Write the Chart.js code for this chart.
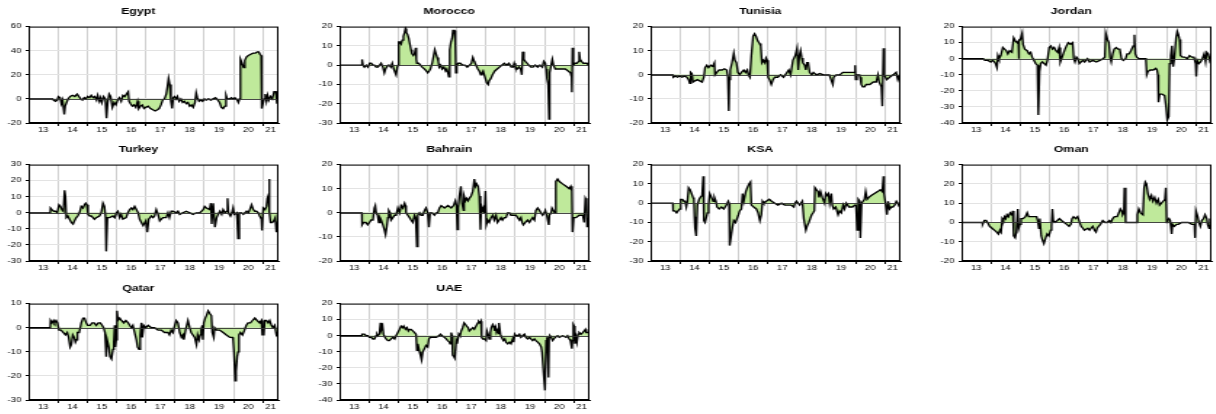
<!DOCTYPE html>
<html>
<head>
<meta charset="utf-8">
<script src="https://cdn.jsdelivr.net/npm/chart.js@4.4.1/dist/chart.umd.min.js"></script>
<style>
  html, body { margin: 0; padding: 0; background: #fff; }
  body { width: 1216px; height: 414px; position: relative; overflow: hidden; }
  canvas { position: absolute; }
</style>
</head>
<body>
<script>
// Panel titles and y-axis ranges
const countries = ['Egypt', 'Morocco', 'Tunisia', 'Jordan', 'Turkey', 'Bahrain', 'KSA', 'Oman', 'Qatar', 'UAE'];
const yMin  = [-20, -30, -20, -40, -30, -20, -30, -20, -30, -40];
const yMax  = [ 60,  20,  20,  20,  30,  20,  20,  30,  10,  20];
const yStep = [ 20,  10,  10,  10,  10,  10,  10,  10,  10,  10];
const yearLabels = ['13', '14', '15', '16', '17', '18', '19', '20', '21'];

// Series as [decimal year, value]
const egypt = [
  [2013.00,0],[2013.82,0],[2013.85,-1],[2013.92,-2],[2013.98,-1],[2014.02,2],[2014.08,1],[2014.12,-4],[2014.16,-1],[2014.22,-13],
  [2014.25,-6],[2014.30,-3],[2014.35,0],[2014.42,2],[2014.50,3],[2014.58,2],[2014.66,4],[2014.72,2],[2014.78,0],[2014.84,-1],
  [2014.90,1],[2014.96,0],[2015.02,2],[2015.08,1],[2015.14,3],[2015.20,1],[2015.26,2],[2015.32,-1],[2015.36,3],[2015.42,-2],
  [2015.46,1],[2015.50,-3],[2015.56,2],[2015.62,0],[2015.66,-16],[2015.70,-3],[2015.75,4],[2015.80,2],[2015.86,-7],[2015.92,-3],
  [2015.98,-5],[2016.04,-1],[2016.10,1],[2016.16,-2],[2016.22,3],[2016.28,2],[2016.34,4],[2016.40,6],[2016.43,-2],[2016.48,-4],
  [2016.54,-6],[2016.60,-5],[2016.66,-7],[2016.72,-2],[2016.76,-8],[2016.82,-6],[2016.88,-5],[2016.94,-8],[2017.00,-7],[2017.08,-6],
  [2017.16,-8],[2017.24,-9],[2017.32,-10],[2017.40,-9],[2017.46,-8],[2017.52,-5],[2017.58,-1],[2017.64,0],[2017.70,4],[2017.74,10],
  [2017.78,17],[2017.82,12],[2017.86,-2],[2017.90,-8],[2017.94,1],[2017.98,2],[2018.04,0],[2018.08,2],[2018.14,-2],[2018.20,0],
  [2018.26,-3],[2018.32,-2],[2018.38,-4],[2018.44,-3],[2018.50,-6],[2018.56,-5],[2018.62,-7],[2018.68,-3],[2018.72,5],[2018.76,1],
  [2018.82,-2],[2018.88,-1],[2018.94,-2],[2019.00,0],[2019.06,-1],[2019.14,0],[2019.22,-1],[2019.30,0],[2019.38,1],[2019.46,-1],
  [2019.52,-3],[2019.58,-7],[2019.64,-8],[2019.70,-6],[2019.74,3],[2019.78,0],[2019.86,0],[2019.92,1],[2019.98,0],[2020.04,1],
  [2020.08,0],[2020.12,-1],[2020.16,-3],[2020.20,0],[2020.22,0],[2020.24,33],[2020.28,30],[2020.34,26],[2020.38,32],[2020.44,35],
  [2020.50,36],[2020.58,37],[2020.66,38],[2020.74,38],[2020.80,39],[2020.86,39],[2020.90,37],[2020.94,36],[2020.96,-8],[2021.00,-4],
  [2021.04,0],[2021.08,4],[2021.12,-2],[2021.16,3],[2021.20,-1],[2021.26,2],[2021.32,0],[2021.38,6],[2021.44,6],[2021.48,-4],[2021.52,2]
];

const morocco = [
  [2013.00,5],[2013.01,0],[2013.76,0],[2013.77,3],[2013.80,0],[2013.85,-1],[2013.92,0],[2013.97,-1],[2014.03,1],[2014.08,1],
  [2014.14,0],[2014.19,0],[2014.25,-1],[2014.31,-1],[2014.37,0],[2014.42,1],[2014.48,-1],[2014.53,-4],[2014.57,-2],[2014.61,-1],
  [2014.66,0],[2014.70,0],[2014.75,-1],[2014.80,1],[2014.85,-2],[2014.88,-2],[2014.93,-5],[2014.97,-1],[2015.00,0],[2015.02,12],
  [2015.06,12],[2015.10,11],[2015.14,13],[2015.18,15],[2015.22,17],[2015.25,19],[2015.28,17],[2015.32,16],[2015.36,14],[2015.40,11],
  [2015.44,8],[2015.47,6],[2015.52,5],[2015.56,6],[2015.60,9],[2015.62,3],[2015.64,1],[2015.70,1],[2015.76,0],[2015.82,-1],
  [2015.90,-2],[2015.96,-3],[2016.01,-4],[2016.06,-3],[2016.10,-2],[2016.16,1],[2016.20,4],[2016.25,8],[2016.29,6],[2016.33,4],
  [2016.37,2],[2016.40,-1],[2016.45,0],[2016.50,-2],[2016.56,-1],[2016.62,-3],[2016.66,-2],[2016.70,-4],[2016.73,-6],[2016.76,8],
  [2016.80,12],[2016.84,14],[2016.87,18],[2016.92,18],[2016.95,12],[2016.97,-4],[2017.00,0],[2017.05,1],[2017.12,1],[2017.20,0],
  [2017.28,0],[2017.36,-1],[2017.44,0],[2017.50,1],[2017.55,4],[2017.60,2],[2017.66,0],[2017.72,-2],[2017.77,-3],[2017.82,-5],
  [2017.86,-4],[2017.90,-3],[2017.96,-6],[2018.02,-9],[2018.07,-10],[2018.11,-8],[2018.16,-7],[2018.22,-5],[2018.30,-3],[2018.38,-2],
  [2018.46,-1],[2018.54,0],[2018.62,1],[2018.70,0],[2018.78,1],[2018.86,-1],[2018.92,-1],[2018.96,1],[2019.00,-1],[2019.06,-2],
  [2019.12,-1],[2019.18,-2],[2019.22,-5],[2019.25,7],[2019.29,3],[2019.34,2],[2019.40,1],[2019.46,0],[2019.53,-1],[2019.60,-1],
  [2019.68,0],[2019.76,-1],[2019.84,0],[2019.92,-1],[2019.97,2],[2020.02,1],[2020.05,-2],[2020.08,-7],[2020.12,-10],[2020.15,-28],
  [2020.17,-4],[2020.22,0],[2020.26,3],[2020.30,0],[2020.36,-2],[2020.44,-2],[2020.52,-2],[2020.60,-2],[2020.70,-2],[2020.80,-3],
  [2020.88,-4],[2020.92,-6],[2020.93,-14],[2020.95,9],[2020.98,0],[2021.04,1],[2021.10,1],[2021.16,2],[2021.18,7],[2021.21,3],
  [2021.26,2],[2021.32,1],[2021.38,1],[2021.44,1],[2021.50,0]
];

const tunisia = [
  [2013.00,-1],[2013.01,0],[2013.76,0],[2013.78,-1],[2013.85,-0.5],[2013.92,-1],[2014.00,-0.5],[2014.08,-1],[2014.16,-0.5],[2014.24,-1],
  [2014.30,-2],[2014.34,-3.5],[2014.37,1],[2014.41,0.5],[2014.45,-3],[2014.52,-2.5],[2014.60,-2],[2014.68,-2.5],[2014.76,-3],[2014.82,-1],
  [2014.86,3],[2014.92,4],[2014.98,3],[2015.05,4],[2015.12,3.5],[2015.18,5],[2015.20,0],[2015.26,1],[2015.34,2],[2015.44,2],
  [2015.52,2.5],[2015.60,2],[2015.64,-1],[2015.67,-15],[2015.69,-2],[2015.72,2],[2015.78,5],[2015.84,9],[2015.88,6],[2015.93,5],
  [2015.98,1],[2016.04,0],[2016.10,1],[2016.18,2],[2016.24,1],[2016.30,2],[2016.34,0],[2016.39,-1],[2016.44,8],[2016.50,16],
  [2016.55,17],[2016.60,16],[2016.66,14],[2016.72,13],[2016.76,12],[2016.80,5],[2016.85,6],[2016.90,5],[2016.94,7],[2016.98,6],
  [2017.01,-1],[2017.06,-2],[2017.12,-4],[2017.18,-2],[2017.24,-1],[2017.34,-1],[2017.44,0],[2017.54,-1],[2017.66,1],[2017.72,2],
  [2017.78,0],[2017.86,6],[2017.94,8],[2018.00,11],[2018.04,2],[2018.08,8],[2018.12,10],[2018.16,7],[2018.20,5],[2018.26,4],
  [2018.30,2],[2018.34,5],[2018.38,5],[2018.43,1],[2018.50,0],[2018.56,1],[2018.66,0],[2018.78,0.5],[2018.90,0],[2019.00,0],
  [2019.10,0],[2019.22,-4],[2019.25,-1],[2019.34,0],[2019.46,0],[2019.56,1],[2019.68,1],[2019.80,1],[2019.96,1],[2019.98,4],
  [2020.00,-2],[2020.04,0],[2020.13,0],[2020.15,-1],[2020.19,-4],[2020.24,-5],[2020.30,-5],[2020.36,-4],[2020.48,-4],[2020.60,-3],
  [2020.70,-3],[2020.76,0],[2020.80,-3],[2020.88,-5],[2020.91,-13],[2020.95,11],[2020.98,0],[2021.06,-2],[2021.16,-1],[2021.28,0],
  [2021.38,1],[2021.44,-2],[2021.50,0]
];

const jordan = [
  [2013.00,0],[2013.74,0],[2013.80,-1],[2013.90,-1],[2014.00,-2],[2014.06,-1],[2014.12,-2],[2014.16,-3],[2014.21,-5.5],[2014.24,2],
  [2014.28,0],[2014.34,2],[2014.41,7],[2014.47,6],[2014.53,5],[2014.58,3],[2014.64,5],[2014.72,4],[2014.78,13],[2014.84,11],
  [2014.90,10],[2014.94,11],[2014.95,0],[2014.97,11],[2015.01,12],[2015.07,16],[2015.10,9],[2015.16,6],[2015.24,5],[2015.30,3],
  [2015.36,4],[2015.41,1],[2015.47,-1],[2015.53,-3],[2015.59,-4],[2015.62,-35],[2015.66,-8],[2015.70,-3],[2015.76,-2],[2015.82,-3],
  [2015.88,-4],[2015.93,-1],[2015.99,7],[2016.05,8],[2016.10,6],[2016.16,7],[2016.22,5],[2016.28,4],[2016.33,7],[2016.37,-2],
  [2016.41,0],[2016.47,3],[2016.53,6],[2016.58,8],[2016.64,10],[2016.72,9],[2016.79,10],[2016.83,0],[2016.87,-2],[2016.92,1],
  [2016.97,0],[2017.02,-3],[2017.08,-2],[2017.14,-1],[2017.20,-2],[2017.30,0],[2017.37,-2],[2017.48,-1],[2017.60,-2],[2017.72,-1],
  [2017.83,0],[2017.89,1],[2017.92,16],[2017.98,12],[2018.03,10],[2018.07,1],[2018.11,-2],[2018.16,3],[2018.21,6],[2018.28,7],
  [2018.34,6],[2018.40,6],[2018.46,0],[2018.52,-1],[2018.60,0],[2018.65,3],[2018.72,3],[2018.78,5],[2018.86,8],[2018.90,15],
  [2018.93,3],[2018.98,1],[2019.06,0],[2019.18,0],[2019.29,0],[2019.32,-10],[2019.36,-8],[2019.44,-7],[2019.54,-7],[2019.63,-6],
  [2019.67,-7],[2019.70,-10],[2019.72,-27],[2019.76,-22],[2019.84,-22],[2019.93,-23],[2019.98,-30],[2020.02,-38],[2020.07,-36],[2020.10,-3],
  [2020.14,2],[2020.18,8],[2020.22,-5],[2020.26,0],[2020.32,13],[2020.36,17],[2020.40,15],[2020.44,12],[2020.47,2],[2020.54,1],
  [2020.62,1],[2020.70,0],[2020.78,2],[2020.86,1],[2020.93,1],[2020.99,-3],[2021.01,-11],[2021.04,-1],[2021.10,-3],[2021.16,-2],
  [2021.22,0],[2021.28,3],[2021.33,-2],[2021.37,4],[2021.42,3],[2021.47,-1],[2021.52,2]
];

const turkey = [
  [2013.00,2],[2013.01,0],[2013.74,0],[2013.75,3],[2013.80,2],[2013.86,1],[2013.92,1],[2013.98,0],[2014.04,5],[2014.09,4],
  [2014.14,2],[2014.19,1],[2014.23,14],[2014.26,10],[2014.29,-3],[2014.34,-2],[2014.40,-4],[2014.46,-6],[2014.52,-7],[2014.57,-5],
  [2014.63,-3],[2014.68,-2],[2014.74,0],[2014.80,4],[2014.86,3],[2014.91,5],[2014.95,6],[2014.99,5],[2015.03,-1],[2015.09,-2],
  [2015.14,-2],[2015.20,-3],[2015.25,-4],[2015.31,-3],[2015.42,-2],[2015.48,0],[2015.54,6],[2015.59,4],[2015.63,-3],[2015.65,-24],
  [2015.69,-3],[2015.77,-3],[2015.88,-2],[2015.94,-3],[2016.00,0],[2016.05,1],[2016.11,-3],[2016.16,-1],[2016.22,-4],[2016.33,-3],
  [2016.39,0],[2016.45,2],[2016.51,3],[2016.56,2],[2016.62,4],[2016.68,2],[2016.74,0],[2016.79,-4],[2016.85,-6],[2016.91,-8],
  [2017.00,-5],[2017.05,-12],[2017.10,-4],[2017.19,-2],[2017.25,-3],[2017.30,-2],[2017.36,2],[2017.42,-1],[2017.48,-5],[2017.53,-4],
  [2017.59,-3],[2017.70,-3],[2017.76,0],[2017.81,-3],[2017.87,1],[2017.93,1],[2018.04,0],[2018.10,1],[2018.16,-1],[2018.27,0],
  [2018.38,1],[2018.50,0],[2018.61,-1],[2018.73,0],[2018.84,0],[2018.96,2],[2019.01,4],[2019.07,3],[2019.18,2],[2019.22,6],
  [2019.25,-7],[2019.30,6],[2019.36,-9],[2019.42,-3],[2019.47,-1],[2019.53,1],[2019.59,-1],[2019.64,2],[2019.70,0],[2019.76,1],
  [2019.79,9],[2019.82,0],[2019.89,-2],[2019.94,0],[2019.98,3],[2020.02,-1],[2020.10,0],[2020.12,-4],[2020.15,-16],[2020.19,0],
  [2020.27,0],[2020.33,-1],[2020.38,0],[2020.44,1],[2020.50,0],[2020.55,2],[2020.61,5],[2020.67,2],[2020.72,1],[2020.78,1],
  [2020.84,0],[2020.89,-2],[2020.95,-4],[2020.97,-11],[2021.01,3],[2021.07,2],[2021.12,4],[2021.15,9],[2021.19,11],[2021.21,21],
  [2021.23,0],[2021.26,-6],[2021.32,-6],[2021.37,-5],[2021.42,-3],[2021.46,-12],[2021.51,-5]
];

const bahrain = [
  [2013.00,-4],[2013.01,0],[2013.76,0],[2013.77,-5],[2013.82,-4],[2013.90,-4],[2013.96,-5],[2014.02,-4],[2014.08,-3],[2014.14,-3],
  [2014.19,2],[2014.22,3],[2014.25,0],[2014.30,-1],[2014.34,-4],[2014.38,-2],[2014.42,-3],[2014.48,-5],[2014.53,-7],[2014.57,-9],
  [2014.61,-6],[2014.65,-2],[2014.68,1],[2014.73,0],[2014.76,-3],[2014.82,-2],[2014.88,-1],[2014.93,-1],[2014.99,2],[2015.05,0],
  [2015.10,3],[2015.16,2],[2015.22,4],[2015.25,3],[2015.27,0],[2015.33,-1],[2015.39,-2],[2015.44,-3],[2015.50,-4],[2015.56,-1],
  [2015.60,-2],[2015.64,-14],[2015.67,-1],[2015.73,0],[2015.78,-1],[2015.84,-1],[2015.90,1],[2015.95,2],[2016.01,0],[2016.05,-6],
  [2016.09,0],[2016.16,0],[2016.24,-1],[2016.30,0],[2016.35,0],[2016.41,2],[2016.47,3],[2016.58,2],[2016.70,3],[2016.81,2],
  [2016.89,3],[2016.95,5],[2016.99,3],[2017.02,-7],[2017.05,2],[2017.09,7],[2017.14,11],[2017.18,4],[2017.23,1],[2017.25,7],
  [2017.30,5],[2017.34,6],[2017.39,5],[2017.43,6],[2017.49,7],[2017.55,9],[2017.60,14],[2017.64,11],[2017.68,12],[2017.73,11],
  [2017.77,7],[2017.81,-7],[2017.84,3],[2017.89,1],[2017.92,2],[2017.95,0],[2017.98,9],[2018.01,-5],[2018.06,-3],[2018.11,-4],
  [2018.17,-2],[2018.23,-1],[2018.28,-3],[2018.34,-1],[2018.39,-4],[2018.45,-3],[2018.51,-2],[2018.56,-3],[2018.62,-2],[2018.68,-2],
  [2018.74,0],[2018.80,0],[2018.85,-1],[2018.91,-1],[2019.02,-1],[2019.08,-2],[2019.14,-3],[2019.19,-2],[2019.23,-4],[2019.27,-5],
  [2019.34,-4],[2019.42,-3],[2019.48,-4],[2019.53,-3],[2019.59,-2],[2019.65,-3],[2019.70,1],[2019.76,2],[2019.82,1],[2019.87,0],
  [2019.93,-1],[2019.99,0],[2020.02,1],[2020.07,-1],[2020.14,-5],[2020.16,-1],[2020.22,0],[2020.25,2],[2020.30,1],[2020.34,0],
  [2020.38,13],[2020.44,14],[2020.50,13],[2020.61,12],[2020.73,11],[2020.84,10],[2020.89,11],[2020.93,9],[2020.95,-8],[2020.99,-2],
  [2021.07,-2],[2021.18,-1],[2021.30,-1],[2021.35,-4],[2021.39,6],[2021.43,5],[2021.45,-6],[2021.50,-2]
];

const ksa = [
  [2013.00,-4],[2013.01,0],[2013.76,0],[2013.77,-4],[2013.83,-4],[2013.89,-5],[2013.94,-4],[2014.00,-3],[2014.03,2],[2014.09,2],
  [2014.14,1],[2014.18,1],[2014.22,-2],[2014.26,1],[2014.30,8],[2014.35,7],[2014.40,5],[2014.45,3],[2014.48,2],[2014.50,-7],
  [2014.52,-13],[2014.56,-17],[2014.60,-1],[2014.66,2],[2014.70,3],[2014.76,4],[2014.80,14],[2014.82,-9],[2014.86,-10],[2014.91,-7],
  [2014.94,-5],[2014.98,-1],[2015.02,5],[2015.08,3],[2015.14,1],[2015.18,3],[2015.23,1],[2015.27,-2],[2015.34,-3],[2015.42,-2],
  [2015.50,-3],[2015.59,-1],[2015.65,1],[2015.68,0],[2015.70,-22],[2015.76,-16],[2015.80,-12],[2015.84,-9],[2015.90,-10],[2015.95,-8],
  [2016.00,-6],[2016.04,-4],[2016.10,-3],[2016.14,5],[2016.18,1],[2016.25,6],[2016.30,8],[2016.36,10],[2016.41,11],[2016.44,-1],
  [2016.52,-2],[2016.61,-3],[2016.67,-5],[2016.73,-9],[2016.78,-6],[2016.82,1],[2016.86,0],[2016.95,1],[2017.05,2],[2017.13,1],
  [2017.24,0],[2017.35,-1],[2017.47,0],[2017.58,-1],[2017.69,-1],[2017.80,-1],[2017.89,-2],[2017.93,0],[2017.98,1],[2018.09,-1],
  [2018.18,1],[2018.23,-8],[2018.30,-14],[2018.34,-12],[2018.40,-10],[2018.45,-8],[2018.50,-6],[2018.55,-5],[2018.59,-4],[2018.61,8],
  [2018.66,7],[2018.72,6],[2018.75,3],[2018.80,6],[2018.86,3],[2018.94,0],[2018.98,5],[2019.02,4],[2019.07,5],[2019.11,0],
  [2019.17,5],[2019.20,-1],[2019.25,-3],[2019.32,-2],[2019.40,-6],[2019.45,-4],[2019.51,-5],[2019.57,-1],[2019.62,-3],[2019.68,0],
  [2019.77,-2],[2019.89,-2],[2019.97,-1],[2020.01,-1],[2020.05,-14],[2020.09,2],[2020.14,1],[2020.16,-18],[2020.20,0],[2020.25,1],
  [2020.30,2],[2020.34,6],[2020.39,2],[2020.45,3],[2020.53,4],[2020.64,5],[2020.75,6],[2020.84,7],[2020.91,6],[2020.95,14],
  [2020.97,5],[2021.01,1],[2021.07,-6],[2021.11,1],[2021.16,-3],[2021.22,-2],[2021.27,-2],[2021.33,-1],[2021.39,1],[2021.44,0],
  [2021.50,-2]
];

const oman = [
  [2013.00,-1],[2013.01,0],[2013.71,0],[2013.72,-1],[2013.78,1],[2013.84,1],[2013.89,0],[2013.96,-2],[2014.04,-3],[2014.12,-4],
  [2014.20,-5],[2014.26,-6],[2014.31,-4],[2014.35,-5],[2014.39,2],[2014.43,1],[2014.47,3],[2014.51,2],[2014.55,4],[2014.60,3],
  [2014.66,5],[2014.72,4],[2014.75,6],[2014.78,-7],[2014.83,-8],[2014.87,-5],[2014.92,7],[2014.95,-3],[2014.99,-1],[2015.03,2],
  [2015.10,2],[2015.18,3],[2015.24,5],[2015.29,3],[2015.37,3],[2015.46,3],[2015.56,3],[2015.60,1],[2015.64,-3],[2015.67,2],
  [2015.72,-7],[2015.76,-9],[2015.81,-11],[2015.87,-8],[2015.92,-6],[2015.98,-7],[2016.04,-4],[2016.07,-2],[2016.10,7],[2016.13,1],
  [2016.18,0],[2016.27,1],[2016.34,2],[2016.41,1],[2016.50,0],[2016.59,-1],[2016.67,-2],[2016.73,-1],[2016.77,2],[2016.82,3],
  [2016.89,2],[2016.96,3],[2017.03,0],[2017.08,-2],[2017.14,-3],[2017.19,-4],[2017.31,-3],[2017.37,-4],[2017.42,-3],[2017.48,-2],
  [2017.54,-4],[2017.59,-5],[2017.63,-3],[2017.68,-2],[2017.74,-1],[2017.82,1],[2017.90,0],[2017.97,0],[2018.05,1],[2018.10,0],
  [2018.16,2],[2018.22,3],[2018.31,3],[2018.37,5],[2018.42,7],[2018.47,6],[2018.50,4],[2018.54,5],[2018.56,18],[2018.60,0],
  [2018.70,0],[2018.80,0],[2018.90,0],[2018.96,0],[2019.00,4],[2019.05,7],[2019.11,5],[2019.19,4],[2019.23,18],[2019.27,21],
  [2019.31,20],[2019.36,15],[2019.42,12],[2019.48,14],[2019.53,11],[2019.59,13],[2019.65,10],[2019.71,12],[2019.76,9],[2019.82,10],
  [2019.88,11],[2019.94,12],[2019.97,18],[2020.00,0],[2020.03,1],[2020.08,2],[2020.12,1],[2020.17,-6],[2020.20,-1],[2020.26,-2],
  [2020.34,-1],[2020.40,-1],[2020.51,0],[2020.63,0],[2020.74,0],[2020.86,-1],[2020.95,-1],[2020.97,-8],[2021.00,6],[2021.06,3],
  [2021.10,0],[2021.15,-2],[2021.20,1],[2021.26,2],[2021.31,4],[2021.37,2],[2021.40,-1],[2021.45,-3],[2021.48,2],[2021.52,-1]
];

const qatar = [
  [2013.00,2],[2013.01,0],[2013.74,0],[2013.75,3],[2013.80,2],[2013.85,3],[2013.89,2],[2013.94,3],[2013.99,2],[2014.04,-1],
  [2014.11,-1],[2014.19,-2],[2014.26,-3],[2014.32,-2],[2014.37,-4],[2014.42,-8],[2014.46,-7],[2014.51,-3],[2014.56,-4],[2014.60,-6],
  [2014.64,-5],[2014.67,-2],[2014.73,-2],[2014.80,2],[2014.86,4],[2014.91,4],[2014.97,2],[2015.02,1],[2015.10,1],[2015.17,2],
  [2015.24,2],[2015.31,1],[2015.38,2],[2015.45,2],[2015.51,1],[2015.56,0],[2015.61,-2],[2015.65,-12],[2015.68,-5],[2015.74,-8],
  [2015.78,-12],[2015.83,-13],[2015.88,-9],[2015.91,-6],[2015.94,1],[2015.96,-8],[2015.99,-5],[2016.02,7],[2016.05,3],[2016.11,4],
  [2016.17,3],[2016.25,2],[2016.32,3],[2016.40,2],[2016.45,1],[2016.51,0],[2016.56,1],[2016.62,-2],[2016.68,-5],[2016.72,-8],
  [2016.77,-9],[2016.81,-3],[2016.85,2],[2016.88,-4],[2016.93,1],[2017.00,0],[2017.08,1],[2017.19,0],[2017.30,0],[2017.42,-1],
  [2017.53,-1],[2017.64,-2],[2017.76,-2],[2017.81,-3],[2017.87,-1],[2017.93,-2],[2017.99,1],[2018.04,3],[2018.10,2],[2018.16,-2],
  [2018.22,-4],[2018.27,-3],[2018.30,-5],[2018.36,-1],[2018.44,3],[2018.50,0],[2018.55,-2],[2018.61,-3],[2018.67,-4],[2018.73,-7],
  [2018.77,-3],[2018.82,-5],[2018.86,-3],[2018.89,-1],[2018.93,1],[2018.95,-5],[2018.98,2],[2019.03,4],[2019.07,5],[2019.13,7],
  [2019.18,6],[2019.24,5],[2019.27,-2],[2019.32,-4],[2019.35,0],[2019.41,-1],[2019.52,-1],[2019.64,-2],[2019.75,-3],[2019.87,-4],
  [2019.96,-4],[2019.98,-5],[2020.01,-10],[2020.05,-22],[2020.08,-18],[2020.12,-12],[2020.15,-10],[2020.18,-3],[2020.23,-2],[2020.30,-3],
  [2020.37,-1],[2020.43,1],[2020.49,2],[2020.57,2],[2020.64,3],[2020.72,4],[2020.80,3],[2020.89,2],[2020.95,3],[2020.98,-3],
  [2021.03,-3],[2021.06,3],[2021.12,3],[2021.18,2],[2021.23,3],[2021.29,1],[2021.34,0],[2021.40,1],[2021.46,-3],[2021.51,-2]
];

const uae = [
  [2013.00,0],[2013.76,0],[2013.77,1],[2013.85,1],[2013.91,0],[2013.97,0],[2014.02,-1],[2014.08,-1],[2014.14,-2],[2014.19,-2],
  [2014.25,0],[2014.28,1],[2014.31,0],[2014.36,1],[2014.40,8],[2014.43,4],[2014.47,6],[2014.50,1],[2014.55,-1],[2014.59,-2],
  [2014.65,-3],[2014.70,-3],[2014.76,-2],[2014.82,-1],[2014.88,-2],[2014.93,0],[2014.99,2],[2015.05,4],[2015.10,6],[2015.16,5],
  [2015.19,6],[2015.25,4],[2015.30,5],[2015.35,3],[2015.39,4],[2015.44,4],[2015.50,3],[2015.56,2],[2015.61,1],[2015.64,-9],
  [2015.67,-5],[2015.73,-10],[2015.76,-12],[2015.80,-15],[2015.84,-10],[2015.90,-8],[2015.95,-6],[2016.01,-7],[2016.05,-2],[2016.09,-1],
  [2016.18,-1],[2016.30,-1],[2016.39,0],[2016.44,1],[2016.50,0],[2016.58,-1],[2016.64,-2],[2016.69,-3],[2016.75,-4],[2016.77,-5],
  [2016.81,2],[2016.84,0],[2016.86,-12],[2016.90,-13],[2016.93,-14],[2016.98,-3],[2017.01,-5],[2017.07,1],[2017.11,0],[2017.15,3],
  [2017.20,5],[2017.25,8],[2017.30,7],[2017.34,6],[2017.39,5],[2017.43,3],[2017.49,4],[2017.55,5],[2017.60,4],[2017.66,6],
  [2017.72,8],[2017.75,9],[2017.80,8],[2017.83,9],[2017.85,-1],[2017.89,-2],[2017.94,-2],[2018.00,-3],[2018.03,3],[2018.07,1],
  [2018.11,-2],[2018.15,2],[2018.18,5],[2018.23,7],[2018.26,6],[2018.30,3],[2018.33,5],[2018.36,2],[2018.41,4],[2018.43,1],
  [2018.45,8],[2018.49,1],[2018.53,-1],[2018.59,-3],[2018.64,-2],[2018.68,-4],[2018.74,-5],[2018.80,-4],[2018.85,-5],[2018.91,-2],
  [2018.94,-4],[2018.98,1],[2019.02,0],[2019.08,0],[2019.14,1],[2019.19,-1],[2019.25,0],[2019.31,1],[2019.36,-1],[2019.42,-2],
  [2019.48,-1],[2019.53,-2],[2019.59,-3],[2019.65,-2],[2019.70,-3],[2019.76,-4],[2019.82,-5],[2019.88,-7],[2019.91,-10],[2019.97,-25],
  [2020.01,-34],[2020.05,-3],[2020.08,-1],[2020.10,-5],[2020.13,-26],[2020.15,-1],[2020.18,0],[2020.22,-1],[2020.27,-3],[2020.31,-2],
  [2020.36,-1],[2020.44,0],[2020.50,-1],[2020.61,0],[2020.73,-1],[2020.78,0],[2020.84,-2],[2020.88,-3],[2020.93,-8],[2020.95,-3],
  [2020.98,7],[2021.01,6],[2021.03,-5],[2021.07,-1],[2021.10,-4],[2021.14,1],[2021.18,2],[2021.24,1],[2021.30,2],[2021.35,3],
  [2021.39,4],[2021.42,2],[2021.46,2],[2021.50,2]
];

const series = [egypt, morocco, tunisia, jordan, turkey, bahrain, ksa, oman, qatar, uae];

// ---- layout ----
const X_MIN = 2013, X_MAX = 2021.53;
const CANVAS_W = 214, CANVAS_H = 139, CSS_W = 311;   // canvas is stretched horizontally
const AXIS_W = 21;
const colLeft = [-2, 309, 620, 931];
const rowTop = [0, 138, 277];
const FONT = "'Liberation Sans', Arial, sans-serif";
const FILL = '#bfe99b';

// x ticks: year boundaries carry the grid, mid-year positions carry the labels
const labelAt = new Map();
yearLabels.forEach((lab, i) => {
  const start = X_MIN + i;
  const end = Math.min(start + 1, X_MAX);
  labelAt.set((start + end) / 2, lab);
});
const boundaryTicks = [];
for (let y = X_MIN + 1; y < X_MAX; y++) boundaryTicks.push(y);
const xTicks = [...labelAt.keys(), ...boundaryTicks].sort((a, b) => a - b);

// zero line and closed frame round the plot area
const framePlugin = {
  id: 'frame',
  afterDatasetsDraw(chart) {
    const { ctx, chartArea: a, scales } = chart;
    const y0 = Math.round(scales.y.getPixelForValue(0)) + 0.5;
    ctx.save();
    ctx.strokeStyle = '#333';
    ctx.lineWidth = 0.9;
    ctx.beginPath();
    ctx.moveTo(a.left, y0);
    ctx.lineTo(a.right, y0);
    ctx.stroke();
    ctx.strokeStyle = '#000';
    ctx.lineWidth = 1;
    ctx.strokeRect(a.left + 0.5, a.top + 0.5, a.right - a.left - 1, a.bottom - a.top - 1);
    ctx.restore();
  }
};

countries.forEach((name, i) => {
  const cv = document.createElement('canvas');
  cv.width = CANVAS_W;
  cv.height = CANVAS_H;
  cv.style.width = CSS_W + 'px';
  cv.style.height = CANVAS_H + 'px';
  cv.style.left = colLeft[i % 4] + 'px';
  cv.style.top = rowTop[Math.floor(i / 4)] + 'px';
  document.body.appendChild(cv);

  new Chart(cv, {
    type: 'line',
    data: {
      datasets: [{
        data: series[i].map(([x, y]) => ({ x, y })),
        borderColor: '#000',
        borderWidth: 1.35,
        backgroundColor: FILL,
        fill: 'origin',
        pointRadius: 0,
        tension: 0
      }]
    },
    options: {
      responsive: false,
      animation: false,
      events: [],
      layout: { padding: { left: 0, right: AXIS_W, top: 0, bottom: 0 } },
      plugins: {
        legend: { display: false },
        tooltip: { enabled: false },
        title: {
          display: true,
          text: name,
          color: '#000',
          font: { family: FONT, size: 8.5, weight: 'bold', lineHeight: 1.25 },
          padding: { top: 6, bottom: 10 }
        }
      },
      scales: {
        x: {
          type: 'linear',
          min: X_MIN,
          max: X_MAX,
          afterBuildTicks: s => { s.ticks = xTicks.map(v => ({ value: v })); },
          afterFit: s => { s.height = 16; },
          ticks: {
            autoSkip: false,
            maxRotation: 0,
            padding: 0,
            color: '#000',
            font: { family: FONT, size: 6.5 },
            callback: v => labelAt.get(v) || ''
          },
          grid: {
            color: c => (c.tick && Number.isInteger(c.tick.value)) ? '#cfcfcf' : 'rgba(0,0,0,0)',
            tickColor: c => (c.tick && Number.isInteger(c.tick.value)) ? '#000' : 'rgba(0,0,0,0)',
            tickLength: 3,
            lineWidth: 1
          },
          border: { color: '#000', width: 1 }
        },
        y: {
          min: yMin[i],
          max: yMax[i],
          afterFit: s => { s.width = AXIS_W; },
          ticks: {
            stepSize: yStep[i],
            padding: 3,
            color: '#000',
            font: { family: FONT, size: 6.5 }
          },
          grid: { color: '#e3e3e3', tickColor: '#000', tickLength: 2, lineWidth: 1 },
          border: { color: '#000', width: 1 }
        }
      }
    },
    plugins: [framePlugin]
  });
});
</script>
</body>
</html>
